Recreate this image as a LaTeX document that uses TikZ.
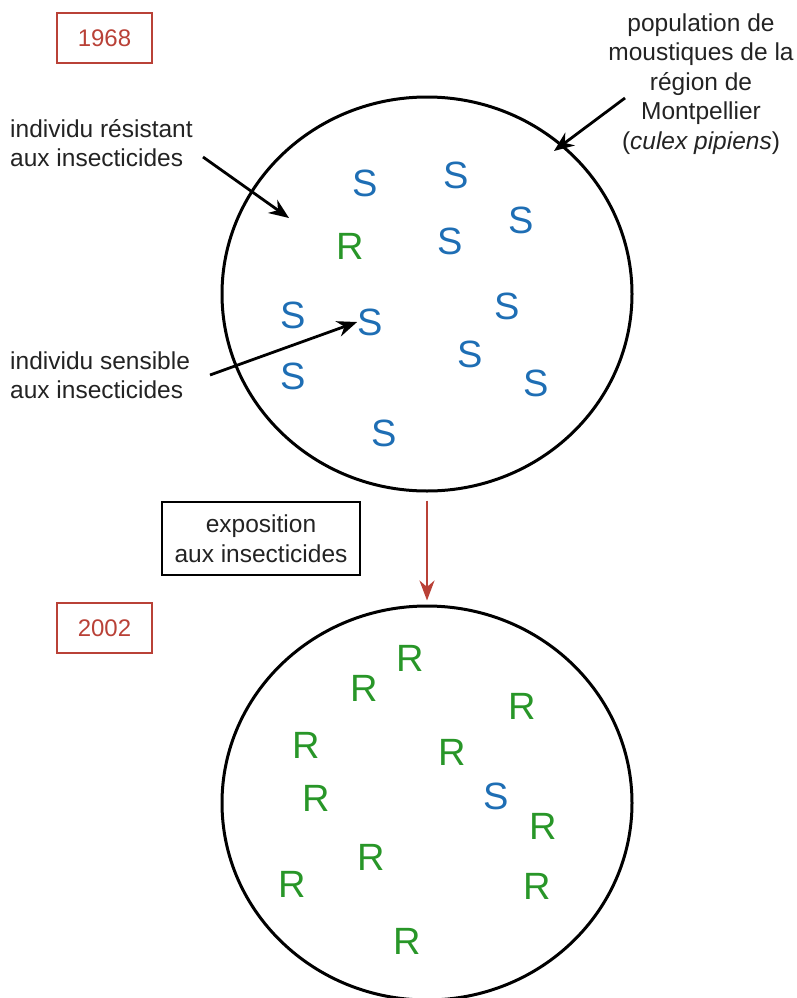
\documentclass[tikz,border=0pt]{standalone}
\usepackage{fontspec}
\setmainfont{Liberation Sans}
\usetikzlibrary{arrows.meta,calc,shapes.geometric}
\definecolor{redc}{RGB}{185,65,55}
\definecolor{bluec}{RGB}{30,110,180}
\definecolor{greenc}{RGB}{40,150,40}
\definecolor{textc}{RGB}{35,35,35}
\tikzset{
  lbl/.style={text=textc,font=\fontsize{24.5}{29.5}\selectfont,inner sep=0pt},
  yearbox/.style={draw=redc,line width=2.4pt,text=redc,minimum width=95pt,minimum height=50pt,font=\fontsize{24}{28}\selectfont,inner sep=0pt},
  sletter/.style={text=bluec,font=\fontsize{38}{40}\selectfont,inner sep=0pt},
  rletter/.style={text=greenc,font=\fontsize{38}{40}\selectfont,inner sep=0pt},
  pop/.style={draw=black,line width=3pt,ellipse,minimum width=410pt,minimum height=394pt},
  blkarrow/.style={line width=2.8pt,-{Stealth[length=20pt,width=16pt]}},
}
\begin{document}
\begin{tikzpicture}[x=1pt,y=-1pt]
\useasboundingbox (0,0) rectangle (796,998);
% populations
\node[pop] (c1) at (427,294) {};
\node[pop] (c2) at (427,803) {};
% year boxes
\node[yearbox] (y1) at (104.5,38) {1968};
\node[yearbox] (y2) at (104.5,628) {2002};
% exposition box
\node[draw=black,line width=2.4pt,minimum width=198pt,minimum height=73pt,lbl,align=center] (expo) at (261,538.5) {exposition\\aux insecticides};
% top circle letters
\node[sletter] (s1) at (365,183) {S};
\node[sletter] (s2) at (456,175) {S};
\node[sletter] (s3) at (521,220) {S};
\node[rletter] (r0) at (350,246) {R};
\node[sletter] (s4) at (450,241) {S};
\node[sletter] (s5) at (293,315) {S};
\node[sletter] (s6) at (370,322) {S};
\node[sletter] (s7) at (507,306) {S};
\node[sletter] (s8) at (293,376) {S};
\node[sletter] (s9) at (470,354) {S};
\node[sletter] (s10) at (536,383) {S};
\node[sletter] (s11) at (384,433) {S};
% bottom circle letters
\node[rletter] (b1) at (410,658) {R};
\node[rletter] (b2) at (364,688) {R};
\node[rletter] (b3) at (522,706) {R};
\node[rletter] (b4) at (306,745) {R};
\node[rletter] (b5) at (452,752) {R};
\node[rletter] (b6) at (316,798) {R};
\node[sletter] (b7) at (496,796) {S};
\node[rletter] (b8) at (543,826) {R};
\node[rletter] (b9) at (371,857) {R};
\node[rletter] (b10) at (292,884) {R};
\node[rletter] (b11) at (537,886) {R};
\node[rletter] (b12) at (407,941) {R};
% labels
\node[lbl,align=left,anchor=west] (lres) at (10,143) {individu résistant\\aux insecticides};
\node[lbl,align=left,anchor=west] (lsen) at (10,375) {individu sensible\\aux insecticides};
\node[lbl,align=center] (lpop) at (701,84) {population de\\moustiques de la\\région de\\Montpellier\\(\textit{culex pipiens})};
% arrows
\coordinate (ares0) at (203,157);
\coordinate (ares1) at (289,218);
\draw[blkarrow] (ares0) -- (ares1);
\coordinate (asen0) at (210,375);
\draw[blkarrow] (asen0) -- (s6.west);
\coordinate (apop0) at (625,98);
\coordinate (apop1) at (554,151);
\draw[blkarrow] (apop0) -- (apop1);
\coordinate (ared0) at ($(c1.south)+(0,8)$);
\coordinate (ared1) at ($(c2.north)+(0,-4)$);
\draw[line width=2.5pt,draw=redc,-{Stealth[length=20pt,width=15pt]}] (ared0) -- (ared1);
\end{tikzpicture}
\end{document}
